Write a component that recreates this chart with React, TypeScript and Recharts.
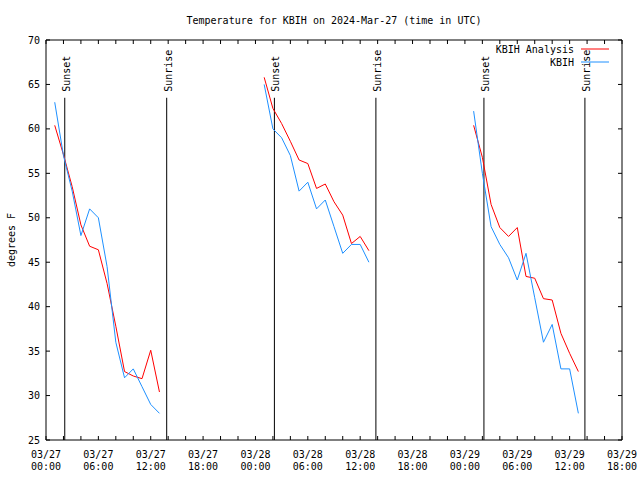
import React from 'react';
import { LineChart, Line, XAxis, YAxis, ReferenceLine, Legend } from 'recharts';

const TITLE = 'Temperature for KBIH on 2024-Mar-27 (time in UTC)';
const Y_LABEL = 'degrees F';
const SERIES_ANALYSIS = 'KBIH Analysis';
const SERIES_OBS = 'KBIH';
const legendOrder = [SERIES_ANALYSIS, SERIES_OBS];

// x axis: hours since 03/27 00:00 UTC
const xTicks = [0, 2, 4, 6, 8, 10, 12, 14, 16, 18, 20, 22, 24, 26, 28, 30, 32, 34, 36, 38, 40, 42, 44, 46, 48, 50, 52, 54, 56, 58, 60, 62, 64, 66];
const xLabelDates = ['03/27', '03/27', '03/27', '03/27', '03/28', '03/28', '03/28', '03/28', '03/29', '03/29', '03/29', '03/29'];
const xLabelTimes = ['00:00', '06:00', '12:00', '18:00', '00:00', '06:00', '12:00', '18:00', '00:00', '06:00', '12:00', '18:00'];
const yTicks = [25, 30, 35, 40, 45, 50, 55, 60, 65, 70];

// each day's segment starts at this hour
const segmentStartHours = [1, 25, 49];

const analysisDay1 = [60.4, 57.1, 53.5, 49.2, 46.8, 46.4, 42.6, 37.8, 32.7, 32.2, 31.9, 35.1, 30.4];
const analysisDay2 = [65.8, 62.3, 60.6, 58.6, 56.5, 56.1, 53.3, 53.8, 51.8, 50.3, 47.1, 47.9, 46.3];
const analysisDay3 = [60.4, 56.8, 51.5, 48.9, 47.9, 48.9, 43.4, 43.2, 40.9, 40.75, 37.0, 34.75, 32.7];

const kbihDay1 = [63, 57, 53, 48, 51, 50, 44.5, 36, 32, 33, 31, 29, 28];
const kbihDay2 = [65, 60, 59, 57, 53, 54, 51, 52, 49, 46, 47, 47, 45];
const kbihDay3 = [62, 55, 49, 47, 45.5, 43, 46, 41, 36, 38, 33, 33, 28];

const sunsetHours = [2.15, 26.17, 50.18];
const sunriseHours = [13.83, 37.8, 61.75];
const sunLineTop = 63.5;

const analysisByDay = [analysisDay1, analysisDay2, analysisDay3];
const kbihByDay = [kbihDay1, kbihDay2, kbihDay3];

type Row = { h: number; analysis: number | null; kbih: number | null };
const rows: Row[] = [];
segmentStartHours.forEach((start, d) => {
  analysisByDay[d].forEach((v, i) => {
    rows.push({ h: start + i, analysis: v, kbih: kbihByDay[d][i] });
  });
  rows.push({ h: start + analysisByDay[d].length + 4, analysis: null, kbih: null });
});

const FONT = '"DejaVu Sans Mono", "Liberation Mono", monospace';
const FS = 10;
const RED = '#ff0000';
const BLUE = '#1e90ff';

const BottomTick = (props: any) => {
  const { x, y, payload } = props;
  const h = payload.value as number;
  const major = h % 6 === 0;
  const idx = h / 6;
  return (
    <g>
      <line x1={x} x2={x} y1={y} y2={y - 4} stroke="#000" />
      {major && (
        <text x={x} y={y + 18} textAnchor="middle" fontFamily={FONT} fontSize={FS} fill="#000">
          <tspan x={x}>{xLabelDates[idx]}</tspan>
          <tspan x={x} dy={12}>{xLabelTimes[idx]}</tspan>
        </text>
      )}
    </g>
  );
};

const TopTick = (props: any) => {
  const { x, y } = props;
  return <line x1={x} x2={x} y1={y} y2={y + 4} stroke="#000" />;
};

const LeftTick = (props: any) => {
  const { x, y, payload } = props;
  return (
    <g>
      <line x1={x} x2={x + 4} y1={y} y2={y} stroke="#000" />
      <text x={x - 6} y={y + 3.6} textAnchor="end" fontFamily={FONT} fontSize={FS} fill="#000">
        {payload.value}
      </text>
    </g>
  );
};

const RightTick = (props: any) => {
  const { x, y } = props;
  return <line x1={x} x2={x - 4} y1={y} y2={y} stroke="#000" />;
};

const sunLabel = (text: string) => (props: any) => {
  const vb = props.viewBox || {};
  const lx = (vb.x ?? 0) + 5;
  const ly = (vb.y ?? 0) - 6;
  return (
    <text x={lx} y={ly} transform={`rotate(-90, ${lx}, ${ly})`} fontFamily={FONT} fontSize={FS} fill="#000">
      {text}
    </text>
  );
};

const TitleLabel = (props: any) => {
  const vb = props.viewBox || {};
  const cx = (vb.x ?? 0) + (vb.width ?? 0) / 2;
  return (
    <text x={cx} y={(vb.y ?? 0) + (vb.height ?? 0) - 16} textAnchor="middle" fontFamily={FONT} fontSize={FS} fill="#000">
      {TITLE}
    </text>
  );
};

const YLabel = (props: any) => {
  const vb = props.viewBox || {};
  const lx = (vb.x ?? 0) + (vb.width ?? 0) - 31;
  const ly = (vb.y ?? 0) + (vb.height ?? 0) / 2;
  return (
    <text x={lx} y={ly} transform={`rotate(-90, ${lx}, ${ly})`} textAnchor="middle" fontFamily={FONT} fontSize={FS} fill="#000">
      {Y_LABEL}
    </text>
  );
};

const LegendContent = (props: any) => {
  const payload = ((props.payload || []) as any[]).slice().sort(
    (a, b) => legendOrder.indexOf(a.value) - legendOrder.indexOf(b.value)
  );
  return (
    <svg width={130} height={28} style={{ display: 'block', overflow: 'visible' }}>
      {payload.map((p, i) => (
        <g key={i}>
          <text x={84} y={7 + i * 13 + 3.6} textAnchor="end" fontFamily={FONT} fontSize={FS} fill="#000">
            {p.value}
          </text>
          <line x1={91} x2={119} y1={7 + i * 13} y2={7 + i * 13} stroke={p.color} strokeWidth={1} />
        </g>
      ))}
    </svg>
  );
};

export default function App() {
  return (
    <div style={{ position: 'absolute', left: 0, top: 0, width: 640, height: 480, background: '#fff' }}>
      <LineChart width={640} height={480} data={rows} margin={{ top: 39, right: 17, bottom: 39, left: 45 }}>
        <XAxis
          xAxisId="bottom"
          dataKey="h"
          type="number"
          domain={[0, 66]}
          ticks={xTicks}
          interval={0}
          height={1}
          tickSize={0}
          tickMargin={0}
          tickLine={false}
          axisLine={{ stroke: '#000' }}
          tick={<BottomTick />}
          allowDataOverflow
        />
        <XAxis
          xAxisId="top"
          orientation="top"
          dataKey="h"
          type="number"
          domain={[0, 66]}
          ticks={xTicks}
          interval={0}
          height={1}
          tickSize={0}
          tickMargin={0}
          tickLine={false}
          axisLine={{ stroke: '#000' }}
          tick={<TopTick />}
          label={{ content: <TitleLabel /> }}
          allowDataOverflow
        />
        <YAxis
          yAxisId="left"
          type="number"
          domain={[25, 70]}
          ticks={yTicks}
          interval={0}
          width={1}
          tickSize={0}
          tickMargin={0}
          tickLine={false}
          axisLine={{ stroke: '#000' }}
          tick={<LeftTick />}
          label={{ content: <YLabel /> }}
          allowDataOverflow
        />
        <YAxis
          yAxisId="right"
          orientation="right"
          type="number"
          domain={[25, 70]}
          ticks={yTicks}
          interval={0}
          width={1}
          tickSize={0}
          tickMargin={0}
          tickLine={false}
          axisLine={{ stroke: '#000' }}
          tick={<RightTick />}
          allowDataOverflow
        />
        {sunsetHours.map((h, i) => (
          <ReferenceLine
            key={`ss${i}`}
            xAxisId="bottom"
            yAxisId="left"
            segment={[{ x: h, y: sunLineTop }, { x: h, y: 25 }]}
            stroke="#000"
            strokeWidth={1}
            label={sunLabel('Sunset')}
          />
        ))}
        {sunriseHours.map((h, i) => (
          <ReferenceLine
            key={`sr${i}`}
            xAxisId="bottom"
            yAxisId="left"
            segment={[{ x: h, y: sunLineTop }, { x: h, y: 25 }]}
            stroke="#000"
            strokeWidth={1}
            label={sunLabel('Sunrise')}
          />
        ))}
        <Line
          xAxisId="bottom"
          yAxisId="left"
          type="linear"
          dataKey="analysis"
          name={SERIES_ANALYSIS}
          stroke={RED}
          strokeWidth={1}
          dot={false}
          activeDot={false}
          connectNulls={false}
          isAnimationActive={false}
        />
        <Line
          xAxisId="bottom"
          yAxisId="left"
          type="linear"
          dataKey="kbih"
          name={SERIES_OBS}
          stroke={BLUE}
          strokeWidth={1}
          dot={false}
          activeDot={false}
          connectNulls={false}
          isAnimationActive={false}
        />
        <Legend
          layout="horizontal"
          align="center"
          verticalAlign="middle"
          content={<LegendContent />}
          wrapperStyle={{ left: 490, top: 42, width: 130, height: 28 }}
        />
      </LineChart>
    </div>
  );
}
